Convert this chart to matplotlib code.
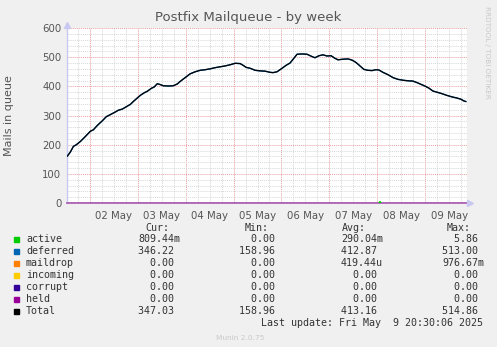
import matplotlib
matplotlib.use("Agg")
import matplotlib.pyplot as plt
import numpy as np

# ---- data ----
hours = [-11.2, -9.7, -8.2, -6.7, -4.7, -2.2, 0.3, 1.8, 3.8, 6.3, 8.3, 10.3, 12.8, 14.3,
         16.3, 18.3, 20.3, 21.8, 23.8, 25.3, 27.3, 28.8, 30.8, 32.3, 33.8, 35.3, 36.8,
         39.3, 41.8, 43.8, 45.3, 47.8, 50.3, 52.8, 55.3, 57.8, 60.3, 62.8, 65.3, 67.8,
         70.3, 72.8, 75.3, 76.8, 78.3, 80.3, 82.8, 85.3, 87.8, 90.3, 91.8, 93.8, 96.3,
         98.3, 100.3, 102.3, 103.8, 106.3, 108.8, 111.3, 112.8, 114.8, 116.8, 118.8,
         120.8, 122.8, 124.3, 126.8, 129.3, 131.3, 133.3, 135.3, 137.3, 139.3, 141.3,
         143.3, 144.8, 146.8, 149.3, 151.8, 154.3, 156.8, 159.3, 161.8, 163.8, 165.8,
         167.8, 169.8, 171.8, 173.8, 176.3, 178.8, 181.3, 183.8, 185.8, 187.3, 188.3]
total = [161, 175, 194, 200, 211, 228, 246, 251, 266, 282, 296, 303, 312, 318,
         322, 330, 338, 348, 360, 369, 378, 383, 393, 398, 409, 406, 402,
         401, 402, 408, 417, 430, 443, 450, 455, 457, 460, 464, 467, 470,
         474, 479, 478, 472, 465, 462, 455, 453, 452, 448, 447, 450, 462,
         472, 480, 497, 510, 511, 510, 502, 498, 505, 508, 504,
         505, 496, 491, 493, 494, 490, 482, 470, 458, 455, 454,
         457, 456, 448, 440, 430, 424, 421, 419, 418, 413, 407,
         401, 394, 384, 380, 375, 369, 364, 360, 356, 350, 348]
deferred = total
active_hours = [-11.2, 144.8, 145.3, 145.8, 188.3]
active_vals = [0, 0, 4.5, 0, 0]
zero_hours = [-11.2, 188.3]
zero_vals = [0, 0]

day_labels = ["02 May", "03 May", "04 May", "05 May", "06 May", "07 May", "08 May", "09 May"]

series_names = ["active", "deferred", "maildrop", "incoming", "corrupt", "held", "Total"]
series_colors = ["#00CC00", "#0066B3", "#FF8000", "#FFCC00", "#330099", "#990099", "#000000"]
cur_vals = ["809.44m", "346.22 ", "  0.00 ", "  0.00 ", "  0.00 ", "  0.00 ", "347.03 "]
min_vals = ["  0.00 ", "158.96 ", "  0.00 ", "  0.00 ", "  0.00 ", "  0.00 ", "158.96 "]
avg_vals = ["290.04m", "412.87 ", "419.44u", "  0.00 ", "  0.00 ", "  0.00 ", "413.16 "]
max_vals = ["  5.86 ", "513.00 ", "976.67m", "  0.00 ", "  0.00 ", "  0.00 ", "514.86 "]

W, H = 497, 347
fig = plt.figure(figsize=(W / 100, H / 100), dpi=100, facecolor="#F0F0F0")
x0, x1, ytop, ybot = 67, 467, 28, 203
ax = fig.add_axes([x0 / W, 1 - ybot / H, (x1 - x0) / W, (ybot - ytop) / H])
ax.set_facecolor("white")
xmin, xmax = -11.4, 188.9
ax.set_xlim(xmin, xmax)
ax.set_ylim(0, 600)

# grid
for h in np.arange(-6, xmax, 6):
    major = (h % 24 == 0)
    ax.axvline(h, color="#E8A0A0" if major else "#D8D8D8", lw=0.7,
               ls=(0, (1, 1)), zorder=0)
for v in range(20, 600 + 1, 20):
    major = (v % 100 == 0)
    ax.axhline(v, color="#E8A0A0" if major else "#D8D8D8", lw=0.7,
               ls=(0, (1, 1)), zorder=0)

for s in ax.spines.values():
    s.set_visible(False)

# series
ax.plot(active_hours, active_vals, color=series_colors[0], lw=0.7, zorder=2)
ax.plot(zero_hours, zero_vals, color=series_colors[2], lw=0.6, zorder=2)
ax.plot(zero_hours, zero_vals, color=series_colors[3], lw=0.6, zorder=2)
ax.plot(zero_hours, zero_vals, color=series_colors[4], lw=0.6, zorder=2)
ax.plot(zero_hours, zero_vals, color="#B060B8", lw=1.3, zorder=3, clip_on=False)
ax.plot(active_hours[1:4], active_vals[1:4], color=series_colors[0], lw=1.0, zorder=3.5)
ax.plot(hours, deferred, color=series_colors[1], lw=1.0, zorder=4)
ax.plot(hours, total, color=series_colors[6], lw=0.9, zorder=5)

# axis lines with arrows
ax.plot([xmin, xmin], [0, 600], color="#C8C8F0", lw=1, zorder=2, clip_on=False)
ax.plot([xmin], [612], marker="^", color="#C8C8F0", ms=5, clip_on=False)
ax.plot([xmax + 1.5], [0], marker=">", color="#C8C8F0", ms=5, clip_on=False, zorder=1)

ax.set_xticks([12 + 24 * i for i in range(8)])
ax.set_xticklabels(day_labels)
ax.set_yticks(range(0, 601, 100))
ax.tick_params(axis="both", length=0, labelsize=7.3, colors="#555555", pad=4)
ax.tick_params(axis="x", pad=6)
ax.set_ylabel("Mails in queue", fontsize=8, color="#555555", labelpad=20)

fig.text(248 / W, 1 - 18 / H, "Postfix Mailqueue - by week", ha="center", va="center",
         fontsize=9.5, color="#555555")
fig.text(487 / W, 1 - 52 / H, "RRDTOOL / TOBI OETIKER", ha="center", va="center",
         rotation=-90, fontsize=5.2, color="#C8C8C8")
fig.text(240 / W, 1 - 338 / H, "Munin 2.0.75", ha="center", va="center",
         fontsize=5.3, color="#C8C8C8")

mono = "DejaVu Sans Mono"
fs = 7.2
tc = "#333333"
def ft(xp, yp, s, **kw):
    fig.text(xp / W, 1 - yp / H, s, ha="left", va="center", fontsize=fs,
             family=mono, color=tc, **kw)

ft(145, 228, "Cur:")
ft(245, 228, "Min:")
ft(342, 228, "Avg:")
ft(447, 228, "Max:")
for i, name in enumerate(series_names):
    yp = 239.5 + 12 * i
    fig.patches.append(plt.Rectangle((14 / W, 1 - (yp + 2.7) / H), 5.4 / W, 5.4 / H,
                                     transform=fig.transFigure, color=series_colors[i]))
    ft(26, yp, name)
    ft(138, yp, cur_vals[i])
    ft(239, yp, min_vals[i])
    ft(341, yp, avg_vals[i])
    ft(442, yp, max_vals[i])
fig.text(483 / W, 1 - 323.5 / H, "Last update: Fri May  9 20:30:06 2025", ha="right",
         va="center", fontsize=fs, family=mono, color=tc)

fig.savefig("out.png", dpi=100, facecolor=fig.get_facecolor())
